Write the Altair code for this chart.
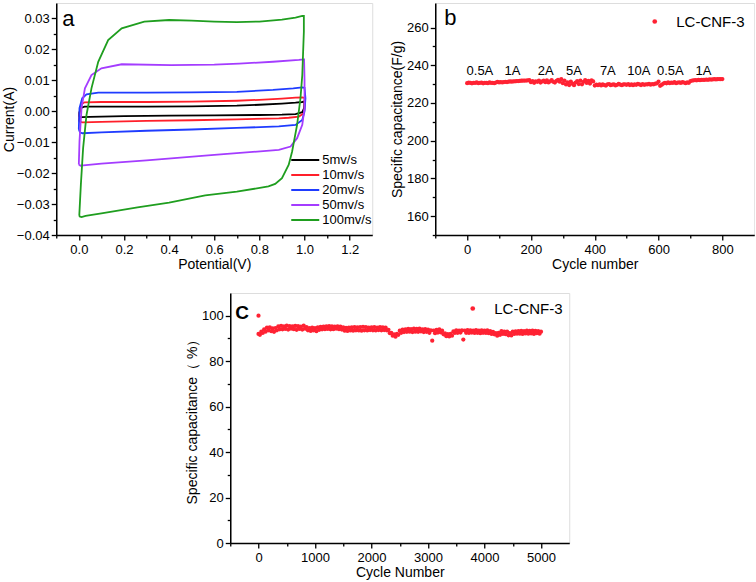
import altair as alt
import pandas as pd

FONT = "Liberation Sans"

# ---------------- panel a : CV curves (upper branch forward, lower branch back)
rates = ["5mv/s", "10mv/s", "20mv/s", "50mv/s", "100mv/s"]
rate_colors = ["#000000", "#ff1f2a", "#1f3cff", "#a43cff", "#1f9e1f"]
legend_rows = [0, 1, 2, 3, 4]

v5_up = [0.0, 0.002, 0.01, 0.025, 0.1, 0.3, 0.5, 0.7, 0.8, 0.9, 0.96, 0.99, 1.0]
i5_up = [-0.0018, -0.0005, 0.0011, 0.0015, 0.0015, 0.0015, 0.0016, 0.0018, 0.0021, 0.0025, 0.0028, 0.0030, 0.0032]
v5_dn = [1.0, 0.998, 0.99, 0.96, 0.9, 0.8, 0.6, 0.4, 0.2, 0.05, 0.015, 0.0]
i5_dn = [0.0032, 0.0010, -0.0003, -0.0009, -0.0011, -0.0012, -0.0013, -0.0014, -0.0016, -0.0018, -0.0019, -0.0018]

v10_up = [0.0, 0.002, 0.01, 0.025, 0.1, 0.3, 0.5, 0.7, 0.8, 0.9, 0.96, 0.99, 1.0]
i10_up = [-0.0033, -0.0010, 0.0022, 0.0029, 0.0030, 0.0030, 0.0031, 0.0034, 0.0037, 0.0041, 0.0044, 0.0045, 0.0043]
v10_dn = [1.0, 1.0, 0.997, 0.975, 0.93, 0.886, 0.7, 0.5, 0.3, 0.1, 0.016, 0.0]
i10_dn = [0.0043, 0.0010, -0.0006, -0.0017, -0.0021, -0.0023, -0.0026, -0.0029, -0.0031, -0.0034, -0.0036, -0.0033]

v20_up = [0.0, 0.001, 0.003, 0.015, 0.034, 0.086, 0.3, 0.5, 0.7, 0.86, 0.95, 0.99, 1.0]
i20_up = [-0.0058, -0.0030, 0.0010, 0.0042, 0.0055, 0.0060, 0.0060, 0.0061, 0.0063, 0.0069, 0.0074, 0.0077, 0.0076]
v20_dn = [1.0, 1.004, 1.0, 0.99, 0.96, 0.886, 0.7, 0.5, 0.3, 0.1, 0.016, 0.005, 0.0]
i20_dn = [0.0076, 0.0042, 0.0, -0.0028, -0.0044, -0.0049, -0.0054, -0.0059, -0.0063, -0.0068, -0.0071, -0.0068, -0.0058]

v50_up = [0.0, 0.003, 0.012, 0.027, 0.056, 0.1, 0.19, 0.41, 0.6, 0.71, 0.86, 0.975, 0.997]
i50_up = [-0.0172, -0.0097, 0.001, 0.0074, 0.0117, 0.0139, 0.0152, 0.0149, 0.0151, 0.0154, 0.016, 0.0166, 0.0168]
v50_dn = [0.998, 1.0, 1.0, 0.99, 0.967, 0.938, 0.886, 0.6, 0.3, 0.1, 0.02, 0.008, 0.0]
i50_dn = [0.0168, 0.01, 0.001, -0.0044, -0.0087, -0.0114, -0.0125, -0.0141, -0.0159, -0.0169, -0.0175, -0.0176, -0.0172]

v100_up = [0.002, 0.009, 0.019, 0.034, 0.056, 0.086, 0.13, 0.19, 0.29, 0.4, 0.5, 0.6, 0.7, 0.8, 0.9, 0.96, 0.99]
i100_up = [-0.0338, -0.0238, -0.0119, -0.0012, 0.0074, 0.016, 0.023, 0.0268, 0.029, 0.0295, 0.0293, 0.029, 0.0288, 0.029, 0.0296, 0.0303, 0.0308]
v100_dn = [0.997, 0.997, 0.99, 0.982, 0.967, 0.945, 0.93, 0.90, 0.87, 0.84, 0.7, 0.56, 0.4, 0.26, 0.1, 0.03, 0.012, 0.004, 0.002]
i100_dn = [0.0308, 0.0257, 0.0117, 0.0042, -0.0044, -0.013, -0.0173, -0.0216, -0.0235, -0.0243, -0.026, -0.0272, -0.0295, -0.0311, -0.033, -0.0338, -0.0342, -0.034, -0.0338]

# ---------------- panel b : rate capability
b_label = "LC-CNF-3"
b_cycles = list(range(0, 801, 5))
b_cap = (
    [230.5, 230.8, 230.6, 230.4, 230.7, 230.6, 230.9, 230.5, 230.6, 230.8,
     230.4, 230.7, 230.6, 230.5, 230.9, 230.6, 230.7, 230.5, 230.8, 231.2]
    + [230.9, 231.0, 230.9, 231.1, 231.2, 231.1, 231.3, 231.4, 231.3, 231.5,
       231.5, 231.6, 231.6, 231.7, 231.8, 231.8, 231.9, 231.9, 232.0, 232.1]
    + [231.0, 231.6, 230.7, 231.5, 231.2, 231.9, 230.8, 231.4, 231.8, 231.0,
       232.0, 230.9, 231.5, 232.1, 231.2, 230.8, 231.7, 232.3, 231.3, 232.6]
    + [230.5, 231.9, 229.8, 230.9, 229.5, 231.3, 230.2, 229.4, 230.8, 231.6,
       230.0, 231.8, 229.9, 231.2, 232.1, 230.6, 231.7, 230.3, 232.0, 231.4]
    + [229.2, 229.7, 229.4, 229.9, 229.3, 229.8, 229.5, 229.2, 229.9, 230.0,
       229.4, 229.7, 229.9, 229.3, 229.6, 230.1, 229.7, 229.4, 229.8, 229.9]
    + [229.6, 230.0, 229.5, 229.8, 229.4, 229.9, 229.6, 230.1, 229.8, 229.5,
       230.0, 229.6, 229.9, 229.8, 230.1, 229.7, 230.0, 229.9, 230.2, 230.4]
    + [231.3, 229.1, 229.6, 230.3, 230.7, 230.4, 230.9, 230.5, 230.8, 230.6,
       231.0, 230.5, 230.8, 230.9, 230.6, 231.0, 230.8, 230.5, 230.9, 230.7]
    + [231.6, 231.9, 232.0, 232.1, 232.0, 232.2, 232.1, 232.3, 232.2, 232.3,
       232.4, 232.3, 232.5, 232.4, 232.5, 232.6, 232.5, 232.6, 232.7, 232.6, 232.7]
)
rate_text = ["0.5A", "1A", "2A", "5A", "7A", "10A", "0.5A", "1A"]
rate_text_x = [40, 142, 246, 335, 441, 538, 637, 741]
rate_text_y = [236.8] * 8

# ---------------- panel c : cycling stability
c_cycles = [0] + list(range(0, 5001, 25))
c_cap = (
    [100.0]
    + [92.0, 91.6, 93.0, 92.4, 94.0, 93.0, 94.8, 93.6]
    + [94.9, 93.2, 94.4, 92.9, 94.6, 93.6, 95.3, 94.0]
    + [95.5, 94.0, 95.3, 94.2, 95.6, 93.9, 95.4, 94.3]
    + [95.3, 94.1, 95.5, 93.8, 95.4, 94.2, 95.2, 93.9]
    + [95.6, 94.3, 95.0, 93.6, 94.6, 93.3, 94.8, 93.6]
    + [94.5, 93.2, 94.9, 93.8, 95.1, 94.0, 95.2, 94.1]
    + [95.3, 94.2, 95.4, 94.0, 95.3, 94.1, 95.2, 94.3]
    + [95.3, 94.1, 95.2, 93.9, 94.9, 93.4, 94.7, 93.3]
    + [94.8, 93.5, 94.9, 93.4, 95.0, 93.6, 94.9, 93.5]
    + [95.0, 93.4, 95.1, 93.6, 95.0, 93.5, 94.8, 93.7]
    + [94.9, 93.6, 95.0, 93.5, 94.8, 93.7, 95.0, 93.6]
    + [94.9, 93.7, 94.8, 93.5, 93.8, 92.3, 92.5, 91.2]
    + [91.8, 90.8, 92.0, 91.6, 93.4, 92.5, 93.9, 92.8]
    + [94.0, 92.9, 94.2, 93.0, 94.1, 92.8, 94.3, 93.0]
    + [94.2, 92.9, 94.3, 93.1, 94.0, 92.8, 94.1, 92.9]
    + [93.9, 92.5, 93.6, 89.0, 93.5, 92.3, 93.8, 92.6]
    + [94.0, 92.7, 93.4, 91.8, 92.2, 91.0, 91.9, 90.9]
    + [92.0, 91.2, 93.1, 92.4, 93.6, 92.5, 93.5, 92.6]
    + [93.6, 89.5, 93.5, 92.5, 93.7, 92.4, 93.6, 92.6]
    + [93.5, 92.4, 93.7, 92.5, 93.4, 92.3, 93.6, 92.5]
    + [93.5, 92.4, 93.6, 92.3, 93.2, 92.0, 92.9, 91.8]
    + [92.4, 91.2, 92.5, 91.6, 93.2, 92.0, 93.0, 91.9]
    + [93.0, 91.4, 92.3, 91.3, 93.0, 92.0, 93.1, 92.1]
    + [93.2, 92.1, 93.3, 92.0, 93.2, 92.2, 93.4, 92.1]
    + [93.3, 92.2, 93.4, 92.0, 93.3, 92.3, 93.2, 92.1, 93.0]
)

# ---------------- tick values
a_xticks = [-0.1, 0.0, 0.1, 0.2, 0.3, 0.4, 0.5, 0.6, 0.7, 0.8, 0.9, 1.0, 1.1, 1.2]
a_yticks = [-0.04, -0.035, -0.03, -0.025, -0.02, -0.015, -0.01, -0.005, 0.0,
            0.005, 0.01, 0.015, 0.02, 0.025, 0.03]
b_xticks = [-100, 0, 100, 200, 300, 400, 500, 600, 700, 800]
b_yticks = [150, 160, 170, 180, 190, 200, 210, 220, 230, 240, 250, 260]
c_xticks = [-500, 0, 500, 1000, 1500, 2000, 2500, 3000, 3500, 4000, 4500, 5000]
c_yticks = [0, 10, 20, 30, 40, 50, 60, 70, 80, 90, 100]

PT_COLOR = "#ff2233"


def axis(values, major_expr, fmt, title, title_pad=1, label_pad=2):
    return alt.Axis(
        values=values,
        format=fmt,
        title=title,
        grid=False,
        labelOverlap=False,
        labelExpr=f"({major_expr}) ? datum.label : ''",
        tickSize={"condition": {"test": major_expr, "value": 5}, "value": 3},
        tickColor="black",
        tickWidth=1.3,
        domainColor="black",
        domainWidth=1.5,
        labelFont=FONT,
        labelFontSize=13,
        labelColor="black",
        labelPadding=label_pad,
        titleFont=FONT,
        titleFontSize=14,
        titleFontWeight="normal",
        titleColor="black",
        titlePadding=title_pad,
    )


# ----- build panel a
rows = []
loops = [
    (v5_up + v5_dn, i5_up + i5_dn),
    (v10_up + v10_dn, i10_up + i10_dn),
    (v20_up + v20_dn, i20_up + i20_dn),
    (v50_up + v50_dn, i50_up + i50_dn),
    (v100_up + v100_dn, i100_up + i100_dn),
]
for name, (vv, ii) in zip(rates, loops):
    for k, (v, i) in enumerate(zip(vv, ii)):
        rows.append({"rate": name, "V": v, "I": i, "k": k})
df_a = pd.DataFrame(rows)
rate_scale = alt.Scale(domain=rates, range=rate_colors)

a_lines = alt.Chart(df_a).mark_line(strokeWidth=1.8, clip=True).encode(
    x=alt.X("V:Q", scale=alt.Scale(domain=[-0.1, 1.3], nice=False, zero=False),
            axis=axis(a_xticks, "abs(datum.value*5 - round(datum.value*5)) < 0.001", ".1f",
                      "Potential(V)", 1, 3)),
    y=alt.Y("I:Q", scale=alt.Scale(domain=[-0.04, 0.035], nice=False, zero=False),
            axis=axis(a_yticks, "abs(datum.value*100 - round(datum.value*100)) < 0.0001", ".2f",
                      "Current(A)", 0)),
    color=alt.Color("rate:N", scale=rate_scale, legend=None),
    order=alt.Order("k:Q"),
    detail="rate:N",
)

# legend for panel a (rows placed through a small scale of their own)
df_leg = pd.DataFrame({"rate": rates, "row": legend_rows})
leg_y = alt.Y("row:Q", scale=alt.Scale(domain=[0, 4], range=[157, 217]), axis=None)
a_leg_rule = alt.Chart(df_leg).mark_rule(strokeWidth=2).encode(
    x=alt.value(235), x2=alt.value(263), y=leg_y,
    color=alt.Color("rate:N", scale=rate_scale, legend=None),
)
a_leg_text = alt.Chart(df_leg).mark_text(
    font=FONT, fontSize=13, align="left", baseline="middle", color="black"
).encode(x=alt.value(266), y=leg_y, text="rate:N")

a_letter = alt.Chart(pd.DataFrame({"t": ["a"]})).mark_text(
    font=FONT, fontSize=22, align="left", baseline="alphabetic", color="black"
).encode(text="t:N", x=alt.value(6), y=alt.value(23))
panel_a = alt.layer(a_lines, a_leg_rule, a_leg_text, a_letter).resolve_scale(
    y="independent").properties(width=316, height=232)

# ----- build panel b
b_x_axis = axis(b_xticks, "datum.value % 200 == 0", "d", "Cycle number", 1, 3)
b_y_axis = axis(b_yticks, "datum.value % 20 == 0", "d", "Specific capacitance(F/g)", 2)
b_x_scale = alt.Scale(domain=[-100, 900], nice=False, zero=False)
b_y_scale = alt.Scale(domain=[150, 273], nice=False, zero=False)

df_b = pd.DataFrame({"cycle": b_cycles, "cap": b_cap, "s": b_label})
b_pts = alt.Chart(df_b).mark_circle(size=18, opacity=1).encode(
    x=alt.X("cycle:Q", scale=b_x_scale, axis=b_x_axis),
    y=alt.Y("cap:Q", scale=b_y_scale, axis=b_y_axis),
    color=alt.Color("s:N", scale=alt.Scale(domain=[b_label], range=[PT_COLOR]),
                    legend=alt.Legend(title=None, orient="none", legendX=212, legendY=11,
                                      symbolType="circle", symbolSize=22, symbolStrokeWidth=0,
                                      labelFont=FONT, labelFontSize=15, labelColor="black",
                                      labelOffset=14)),
)
df_bt = pd.DataFrame({"cycle": rate_text_x, "cap": rate_text_y, "t": rate_text})
b_txt = alt.Chart(df_bt).mark_text(font=FONT, fontSize=13, color="black", baseline="middle").encode(
    x=alt.X("cycle:Q", scale=b_x_scale, axis=b_x_axis),
    y=alt.Y("cap:Q", scale=b_y_scale, axis=b_y_axis),
    text="t:N")
b_letter = alt.Chart(pd.DataFrame({"t": ["b"]})).mark_text(
    font=FONT, fontSize=22, align="left", baseline="alphabetic", color="black"
).encode(text="t:N", x=alt.value(9), y=alt.value(22))
panel_b = alt.layer(b_pts, b_txt, b_letter).properties(width=319, height=232)

# ----- build panel c
df_c = pd.DataFrame({"cycle": c_cycles, "cap": c_cap, "s": b_label})
c_pts = alt.Chart(df_c).mark_circle(size=18, opacity=1).encode(
    x=alt.X("cycle:Q", scale=alt.Scale(domain=[-500, 5500], nice=False, zero=False),
            axis=axis(c_xticks, "datum.value % 1000 == 0", "d", "Cycle Number", 1, 3)),
    y=alt.Y("cap:Q", scale=alt.Scale(domain=[0, 110], nice=False, zero=False),
            axis=axis(c_yticks, "datum.value % 20 == 0", "d", "Specific capacitance（ %）", 2)),
    color=alt.Color("s:N", scale=alt.Scale(domain=[b_label], range=[PT_COLOR]),
                    legend=alt.Legend(title=None, orient="none", legendX=235, legendY=8,
                                      symbolType="circle", symbolSize=22, symbolStrokeWidth=0,
                                      labelFont=FONT, labelFontSize=15, labelColor="black",
                                      labelOffset=14)),
)
c_letter = alt.Chart(pd.DataFrame({"t": ["C"]})).mark_text(
    font=FONT, fontSize=19, fontWeight="bold", align="left", baseline="alphabetic", color="black"
).encode(text="t:N", x=alt.value(5), y=alt.value(26))
# invisible marker that widens the right side of panel c so that centring matches
c_spacer = alt.Chart(pd.DataFrame({"z": [0]})).mark_point(opacity=0, size=4).encode(
    x=alt.value(349), y=alt.value(125))
panel_c = alt.layer(c_pts, c_letter, c_spacer).properties(width=339, height=250)

top = alt.hconcat(panel_a, panel_b, spacing=16).resolve_scale(color="independent")
chart = alt.vconcat(top, panel_c, spacing=20, center=True).resolve_scale(color="independent").properties(
    padding={"left": 1, "top": 2, "right": 0, "bottom": 0}
).configure_view(stroke="black", strokeWidth=1.5).configure(background="white")

chart.save("out.html", embed_options={"renderer": "svg", "actions": False})
